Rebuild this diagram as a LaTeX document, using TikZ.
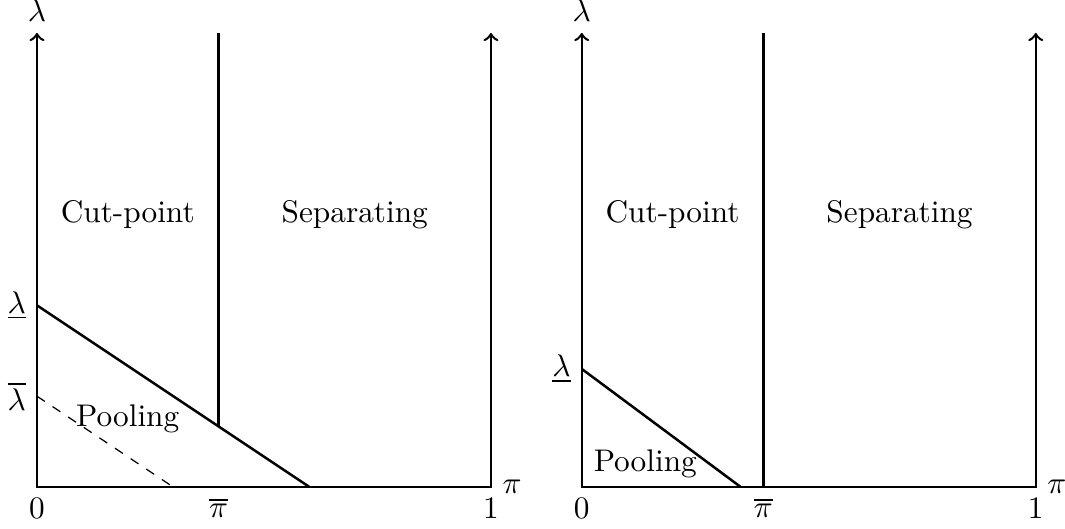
\documentclass[tikz,border=0pt]{standalone}
\usepackage{amsmath}
\usetikzlibrary{positioning}

\begin{document}
\begin{tikzpicture}[x=1.02cm,y=1.02cm,
  axis/.style={thick,<->},
  region/.style={font=\normalsize},
  bound/.style={thick}]
\useasboundingbox (-0.407,-0.463) rectangle (11.322,5.363);

% left panel
\coordinate (o1) at (0,0);
\coordinate (lu1) at (0,2);
\coordinate (lb1) at (0,1);
\coordinate (pe1) at (3,0);
\coordinate (de1) at (1.5,0);
\coordinate (pb1) at (2,0.6667);
\coordinate (pt1) at (2,5);
\draw[axis] (0,5) node[above] (lam1) {$\lambda$} -- (o1) node[below] (zero1) {$0$}
  -- (5,0) node[below] (one1) {$1$} node[right] (pi1) {$\pi$} -- (5,5);
\node[left] (ulam1) at (lu1) {$\underline{\lambda}$};
\node[left] (olam1) at (lb1) {$\overline{\lambda}$};
\node[below] (opi1) at (2,0) {$\overline{\pi}$};
\draw[bound] (lu1) -- (pe1);
\draw[dashed] (lb1) -- (de1);
\draw[bound] (pb1) -- (pt1);
\node[region] (cut1) at (1,3) {Cut-point};
\node[region] (sep1) at (3.5,3) {Separating};
\node[region] (pool1) at (1,0.75) {Pooling};

% right panel
\begin{scope}[xshift=6.0cm*1.02]
\coordinate (o2) at (0,0);
\coordinate (lu2) at (0,1.3);
\coordinate (pe2) at (1.75,0);
\coordinate (pb2) at (2,0);
\coordinate (pt2) at (2,5);
\draw[axis] (0,5) node[above] (lam2) {$\lambda$} -- (o2) node[below] (zero2) {$0$}
  -- (5,0) node[below] (one2) {$1$} node[right] (pi2) {$\pi$} -- (5,5);
\node[left] (ulam2) at (lu2) {$\underline{\lambda}$};
\node[below] (opi2) at (pb2) {$\overline{\pi}$};
\draw[bound] (lu2) -- (pe2);
\draw[bound] (pb2) -- (pt2);
\node[region] (cut2) at (1,3) {Cut-point};
\node[region] (sep2) at (3.5,3) {Separating};
\node[region] (pool2) at (0.7,0.25) {Pooling};
\end{scope}
\end{tikzpicture}
\end{document}
